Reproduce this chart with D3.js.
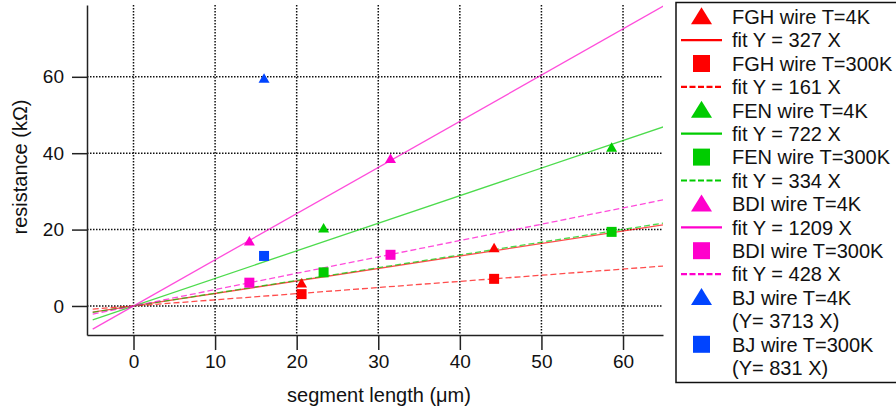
<!DOCTYPE html>
<html><head><meta charset="utf-8">
<script src="https://cdn.jsdelivr.net/npm/d3@7"></script>
<style>
html,body{margin:0;padding:0;background:#fff;overflow:hidden;}
text{font-family:"Liberation Sans",Arial,sans-serif;fill:#111;}
</style></head>
<body>
<svg id="chart" width="896" height="414"></svg>
<script>
// ---- data ----
const seriesNames = ["FGH wire T=4K","FGH wire T=300K","FEN wire T=4K","FEN wire T=300K","BDI wire T=4K","BDI wire T=300K","BJ wire T=4K","BJ wire T=300K"];
const seriesColors = ["#ff0000","#ff0000","#00cc00","#00cc00","#ff00cc","#ff00cc","#0044ff","#0044ff"];
const seriesShapes = ["triangle","square","triangle","square","triangle","square","triangle","square"];
const xFGH = [20.6, 44.2];
const yFGH4K = [6.1, 15.3];
const yFGH300K = [3.1, 7.1];
const xFEN = [23.3, 58.6];
const yFEN4K = [20.5, 41.6];
const yFEN300K = [8.8, 19.4];
const xBDI = [14.2, 31.5];
const yBDI4K = [17.1, 38.7];
const yBDI300K = [6.1, 13.4];
const xBJ = [16.0];
const yBJ4K = [59.7];
const yBJ300K = [13.1];
// fit slopes (Ohm per um, plotted as kOhm per um)
const fitSlopes = [327, 161, 722, 334, 1209, 428];
const fitLabels = ["fit Y = 327 X","fit Y = 161 X","fit Y = 722 X","fit Y = 334 X","fit Y = 1209 X","fit Y = 428 X"];
const fitColors = ["#ff0000","#ff0000","#00cc00","#00cc00","#ff00cc","#ff00cc"];
const fitDashed = [false, true, false, true, false, true];
const fitRange = [-5, 65];
const bjNotes = ["(Y= 3713 X)", "(Y= 831 X)"];
const xTicks = [0,10,20,30,40,50,60];
const yTicks = [0,20,40,60];
const xDomain = [-5.7, 64.9];
const yDomain = [-7.6, 78.8];

const pointSets = [
  {x:xFGH, y:yFGH4K, s:0},{x:xFGH, y:yFGH300K, s:1},
  {x:xFEN, y:yFEN4K, s:2},{x:xFEN, y:yFEN300K, s:3},
  {x:xBDI, y:yBDI4K, s:4},{x:xBDI, y:yBDI300K, s:5},
  {x:xBJ, y:yBJ4K, s:6},{x:xBJ, y:yBJ300K, s:7}
];

// ---- layout ----
const svg = d3.select("#chart");
const L = 87, R = 663, T = 5, B = 335;
const x = d3.scaleLinear().domain(xDomain).range([L, R]);
const y = d3.scaleLinear().domain(yDomain).range([B, T]);

svg.append("clipPath").attr("id","clip").append("rect")
  .attr("x",L).attr("y",T).attr("width",R-L).attr("height",B-T);

// grid
const grid = svg.append("g");
grid.selectAll("line.gx").data(xTicks).enter().append("line")
  .attr("x1",d=>x(d)).attr("x2",d=>x(d)).attr("y1",T).attr("y2",B)
  .attr("stroke","#111").attr("stroke-width",1.5).attr("stroke-dasharray","1.5,1.5");
grid.selectAll("line.gy").data(yTicks).enter().append("line")
  .attr("y1",d=>y(d)).attr("y2",d=>y(d)).attr("x1",L).attr("x2",R)
  .attr("stroke","#111").attr("stroke-width",1.5).attr("stroke-dasharray","1.5,1.5");

// fit lines
const plot = svg.append("g").attr("clip-path","url(#clip)");
const lineGen = d3.line().x(d=>x(d[0])).y(d=>y(d[1]));
fitSlopes.forEach((m,i)=>{
  const pts = fitRange.map(v=>[v, v*m/1000]);
  plot.append("path").attr("d", lineGen(pts))
    .attr("fill","none").attr("stroke",fitColors[i]).attr("stroke-width",1.3)
    .attr("stroke-opacity",0.7)
    .attr("stroke-dasharray", fitDashed[i] ? "6,3" : null);
});

// markers
function shapePath(shape, w, h){
  if(shape==="triangle") return `M0,${-h/2}L${w/2},${h/2}L${-w/2},${h/2}Z`;
  return `M${-w/2},${-w/2}h${w}v${w}h${-w}Z`;
}
pointSets.forEach(ps=>{
  ps.x.forEach((xv,j)=>{
    const shape = seriesShapes[ps.s];
    svg.append("path")
      .attr("d", shape==="triangle" ? shapePath(shape, 11, 9.5) : shapePath(shape, 10))
      .attr("transform",`translate(${x(xv)},${y(ps.y[j])})`)
      .attr("fill",seriesColors[ps.s]);
  });
});

// axes
const xAxis = d3.axisBottom(x).tickValues(xTicks).tickSize(15).tickPadding(5).tickSizeOuter(0);
const gx = svg.append("g").attr("transform",`translate(0,${B})`).call(xAxis);
gx.select(".domain").attr("stroke","#222").attr("stroke-width",1.5);
gx.selectAll(".tick line").attr("stroke","#222").attr("stroke-width",1.5);
gx.selectAll(".tick text").attr("font-size",19).attr("font-family","Liberation Sans, Arial, sans-serif").attr("fill","#111");

const yAxis = d3.axisLeft(y).tickValues(yTicks).tickSize(15).tickPadding(8).tickSizeOuter(0);
const gy = svg.append("g").attr("transform",`translate(${L},0)`).call(yAxis);
gy.select(".domain").attr("stroke","#222").attr("stroke-width",1.5);
gy.selectAll(".tick line").attr("stroke","#222").attr("stroke-width",1.5);
gy.selectAll(".tick text").attr("font-size",19).attr("font-family","Liberation Sans, Arial, sans-serif").attr("fill","#111");

// axis titles
svg.append("text").attr("x",(L+R)/2+4).attr("y",402).attr("text-anchor","middle")
  .attr("font-size",20).text("segment length (μm)");
svg.append("text").attr("transform",`translate(27,${(T+B)/2-3}) rotate(-90)`)
  .attr("text-anchor","middle").attr("font-size",20).text("resistance (kΩ)");

// legend
const lg = svg.append("g");
lg.append("rect").attr("x",676).attr("y",2.5).attr("width",260).attr("height",380)
  .attr("fill","#fff").attr("stroke","#111").attr("stroke-width",1.5);
const rows = [];
for(let k=0;k<6;k++){
  rows.push({type:"marker", s:k, label:seriesNames[k]});
  rows.push({type:"line", f:k, label:fitLabels[k]});
}
rows.push({type:"marker", s:6, label:seriesNames[6]});
rows.push({type:"none", label:bjNotes[0]});
rows.push({type:"marker", s:7, label:seriesNames[7]});
rows.push({type:"none", label:bjNotes[1]});
const rowY0 = 16.7, rowDY = 23.4;
rows.forEach((r,i)=>{
  const cy = rowY0 + i*rowDY;
  if(r.type==="marker"){
    const shape = seriesShapes[r.s];
    lg.append("path")
      .attr("d", shape==="triangle" ? shapePath(shape, 21, 17) : shapePath(shape, 17))
      .attr("transform",`translate(701.5,${cy - (shape==="triangle"?1:0)})`)
      .attr("fill",seriesColors[r.s]);
  } else if(r.type==="line"){
    lg.append("line").attr("x1",681).attr("x2",722).attr("y1",cy).attr("y2",cy)
      .attr("stroke",fitColors[r.f]).attr("stroke-width",2.2)
      .attr("stroke-dasharray", fitDashed[r.f] ? "6,2.5" : null);
  }
  lg.append("text").attr("x",732).attr("y",cy).attr("dy","0.36em")
    .attr("font-size",20).text(r.label);
});
</script>
</body></html>
